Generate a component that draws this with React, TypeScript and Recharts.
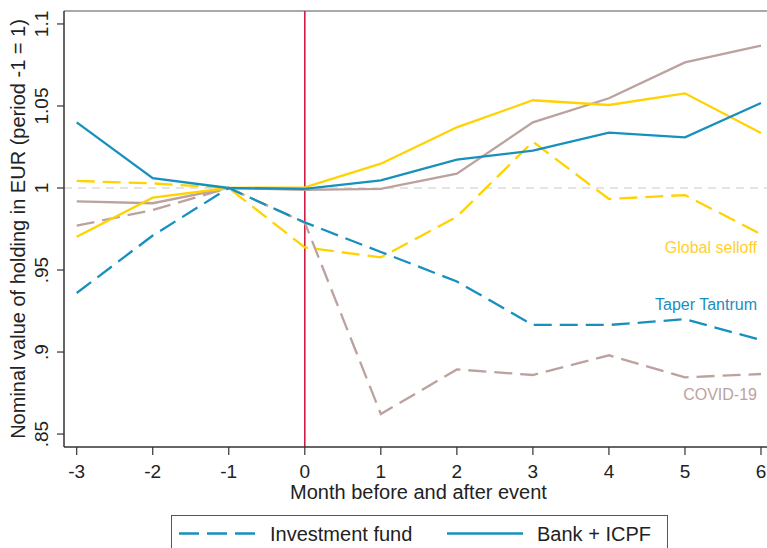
import React from 'react';
import { LineChart, Line, XAxis, YAxis, ReferenceLine, ReferenceDot } from 'recharts';

// months relative to the event, period -1 = 1
const months = [-3, -2, -1, 0, 1, 2, 3, 4, 5, 6];

// Taper Tantrum
const taperFund = [0.936, 0.971, 1, 0.979, 0.961, 0.943, 0.9165, 0.9165, 0.92, 0.9073];
const taperBank = [1.04, 1.006, 1, 0.9995, 1.0047, 1.0173, 1.0228, 1.0337, 1.0309, 1.0518];

// Global selloff
const selloffFund = [1.0043, 1.0028, 1, 0.9638, 0.9577, 0.9825, 1.0282, 0.9933, 0.9957, 0.9718];
const selloffBank = [0.9703, 0.9941, 1, 1.0004, 1.0148, 1.037, 1.0535, 1.0506, 1.0577, 1.0335];

// COVID-19
const covidFund = [0.977, 0.9866, 1, 0.9789, 0.8622, 0.8894, 0.886, 0.898, 0.8846, 0.8866];
const covidBank = [0.9919, 0.9907, 1, 0.9988, 0.9994, 1.0087, 1.04, 1.0547, 1.0766, 1.0868];

const yTicks = [0.85, 0.9, 0.95, 1, 1.05, 1.1];

const FONT = '"Liberation Sans", Arial, sans-serif';
const BLUE = '#1790be';
const YELLOW = '#ffd200';
const TAUPE = '#bba29e';
const AXIS = '#333333';

const data = months.map((m, i) => ({
  month: m,
  taperFund: taperFund[i],
  taperBank: taperBank[i],
  selloffFund: selloffFund[i],
  selloffBank: selloffBank[i],
  covidFund: covidFund[i],
  covidBank: covidBank[i],
}));

const fmtY = (v: number) => (v < 1 ? String(v).replace('0.', '.') : String(v));

const YTick = (props: any) => {
  const { x, y, payload } = props;
  return (
    <text
      x={x}
      y={y}
      transform={`rotate(-90 ${x} ${y})`}
      textAnchor="middle"
      fontSize={19}
      fontFamily={FONT}
      fill="#222"
    >
      {fmtY(payload.value)}
    </text>
  );
};

const eventLabel = (text: string, color: string) => ({
  value: text,
  position: 'left' as const,
  offset: 4,
  fill: color,
  fontSize: 16,
  fontFamily: FONT,
});

export default function App() {
  return (
    <div style={{ position: 'absolute', left: 0, top: 0, width: 767, height: 548, background: '#fff' }}>
      <LineChart width={767} height={548} data={data} margin={{ top: 11, right: 0, bottom: 0, left: 0 }}>
        <XAxis
          dataKey="month"
          type="number"
          domain={[-3.167, 6.079]}
          ticks={months}
          interval={0}
          allowDataOverflow
          height={101}
          tickSize={8}
          tickMargin={10}
          axisLine={{ stroke: AXIS, strokeWidth: 1.5 }}
          tickLine={{ stroke: AXIS, strokeWidth: 1.2 }}
          tick={{ fontSize: 19, fontFamily: FONT, fill: '#222' }}
          label={{
            content: (p: any) => {
              const vb = p.viewBox;
              return (
                <text x={vb.x + vb.width / 2 + 3} y={vb.y + 52} textAnchor="middle" fontSize={20} fontFamily={FONT} fill="#222">
                  Month before and after event
                </text>
              );
            },
          }}
        />
        <YAxis
          type="number"
          domain={[0.8421, 1.1079]}
          ticks={yTicks}
          interval={0}
          allowDataOverflow
          width={64}
          tickSize={7}
          tickMargin={9}
          axisLine={{ stroke: AXIS, strokeWidth: 1.5 }}
          tickLine={{ stroke: AXIS, strokeWidth: 1.2 }}
          tick={<YTick />}
          label={{
            content: (p: any) => {
              const vb = p.viewBox;
              const cy = vb.y + vb.height / 2;
              return (
                <text x={25} y={cy} transform={`rotate(-90 25 ${cy})`} textAnchor="middle" fontSize={20} fontFamily={FONT} fill="#222">
                  Nominal value of holding in EUR (period -1 = 1)
                </text>
              );
            },
          }}
        />
        <ReferenceLine y={1.1079} stroke="#555" strokeWidth={1.2} />
        <ReferenceLine y={1} stroke="#dcdcdc" strokeWidth={1.3} strokeDasharray="8 6" />
        <ReferenceLine x={0} stroke="#cf1e45" strokeWidth={1.6} />

        <Line type="linear" dataKey="covidFund" stroke={TAUPE} strokeWidth={2.3} strokeDasharray="18 8" dot={false} isAnimationActive={false} />
        <Line type="linear" dataKey="covidBank" stroke={TAUPE} strokeWidth={2.3} dot={false} isAnimationActive={false} />
        <Line type="linear" dataKey="selloffFund" stroke={YELLOW} strokeWidth={2.3} strokeDasharray="18 8" dot={false} isAnimationActive={false} />
        <Line type="linear" dataKey="selloffBank" stroke={YELLOW} strokeWidth={2.3} dot={false} isAnimationActive={false} />
        <Line type="linear" dataKey="taperFund" stroke={BLUE} strokeWidth={2.3} strokeDasharray="18 8" dot={false} isAnimationActive={false} />
        <Line type="linear" dataKey="taperBank" stroke={BLUE} strokeWidth={2.3} dot={false} isAnimationActive={false} />

        <ReferenceDot x={6} y={0.964} r={0} fill="none" stroke="none" label={eventLabel('Global selloff', '#ffcf2e')} />
        <ReferenceDot x={6} y={0.9291} r={0} fill="none" stroke="none" label={eventLabel('Taper Tantrum', BLUE)} />
        <ReferenceDot x={6} y={0.8742} r={0} fill="none" stroke="none" label={eventLabel('COVID-19', TAUPE)} />
      </LineChart>

      {/* legend box, cut by the bottom edge as in the original */}
      <svg width={767} height={548} style={{ position: 'absolute', left: 0, top: 0, pointerEvents: 'none' }}>
        <rect x={171.5} y={515.5} width={496} height={60} fill="#fff" stroke="#555" strokeWidth={1} />
        <line x1={179} y1={533.5} x2={256} y2={533.5} stroke={BLUE} strokeWidth={2.3} strokeDasharray="20 8" />
        <text x={270} y={541} fontSize={20} fontFamily={FONT} fill="#222">Investment fund</text>
        <line x1={447} y1={533.5} x2={523} y2={533.5} stroke={BLUE} strokeWidth={2.3} />
        <text x={537} y={541} fontSize={20} fontFamily={FONT} fill="#222">Bank + ICPF</text>
      </svg>
    </div>
  );
}
